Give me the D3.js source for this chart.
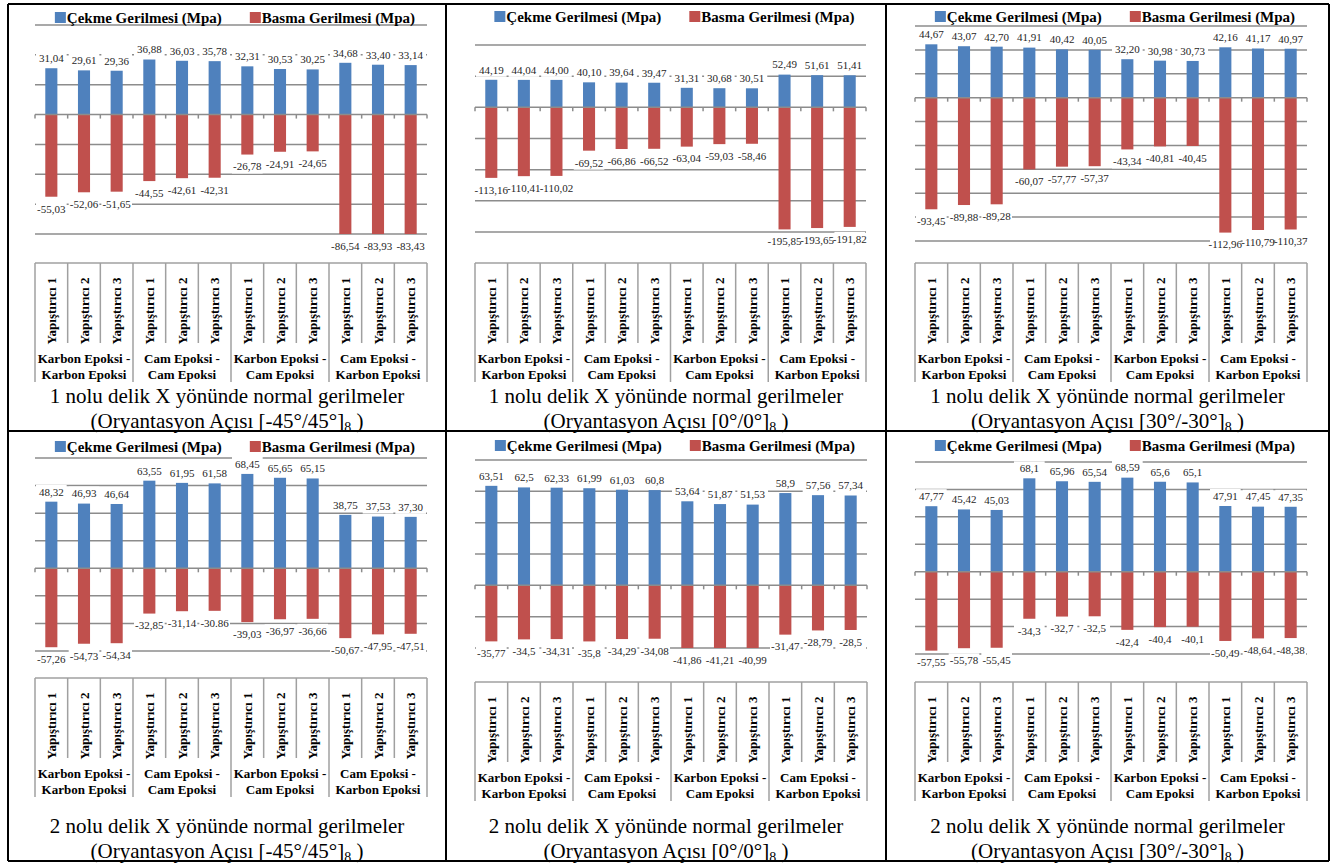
<!DOCTYPE html>
<html>
<head>
<meta charset="utf-8">
<script src="https://cdn.jsdelivr.net/npm/d3@7"></script>
<style>
  body { margin: 0; background: #fff; }
  svg { display: block; }
</style>
</head>
<body>
<div id="fig"></div>
<script>
// ---- data ----
var adhesives = ["Yapıştırıcı 1", "Yapıştırıcı 2", "Yapıştırıcı 3"];
var pairs = [["Karbon Epoksi -", "Karbon Epoksi"], ["Cam Epoksi -", "Cam Epoksi"],
             ["Karbon Epoksi -", "Cam Epoksi"], ["Cam Epoksi -", "Karbon Epoksi"]];
var seriesNames = ["Çekme Gerilmesi (Mpa)", "Basma Gerilmesi (Mpa)"];
var holeTitles = ["1 nolu delik X yönünde normal gerilmeler", "2 nolu delik X yönünde normal gerilmeler"];
var angles = ["-45°/45°", "0°/0°", "30°/-30°"];

// labels are kept exactly as printed (comma decimals)
var cekme_1_m45 = ["31,04", "29,61", "29,36", "36,88", "36,03", "35,78", "32,31", "30,53", "30,25", "34,68", "33,40", "33,14"];
var basma_1_m45 = ["-55,03", "-52,06", "-51,65", "-44,55", "-42,61", "-42,31", "-26,78", "-24,91", "-24,65", "-86,54", "-83,93", "-83,43"];
var cekme_1_0 = ["44,19", "44,04", "44,00", "40,10", "39,64", "39,47", "31,31", "30,68", "30,51", "52,49", "51,61", "51,41"];
var basma_1_0 = ["-113,16", "-110,41", "-110,02", "-69,52", "-66,86", "-66,52", "-63,04", "-59,03", "-58,46", "-195,85", "-193,65", "-191,82"];
var cekme_1_30 = ["44,67", "43,07", "42,70", "41,91", "40,42", "40,05", "32,20", "30,98", "30,73", "42,16", "41,17", "40,97"];
var basma_1_30 = ["-93,45", "-89,88", "-89,28", "-60,07", "-57,77", "-57,37", "-43,34", "-40,81", "-40,45", "-112,96", "-110,79", "-110,37"];
var cekme_2_m45 = ["48,32", "46,93", "46,64", "63,55", "61,95", "61,58", "68,45", "65,65", "65,15", "38,75", "37,53", "37,30"];
var basma_2_m45 = ["-57,26", "-54,73", "-54,34", "-32,85", "-31,14", "-30.86", "-39,03", "-36,97", "-36,66", "-50,67", "-47,95", "-47,51"];
var cekme_2_0 = ["63,51", "62,5", "62,33", "61,99", "61,03", "60,8", "53,64", "51,87", "51,53", "58,9", "57,56", "57,34"];
var basma_2_0 = ["-35,77", "-34,5", "-34,31", "-35,8", "-34,29", "-34,08", "-41,86", "-41,21", "-40,99", "-31,47", "-28,79", "-28,5"];
var cekme_2_30 = ["47,77", "45,42", "45,03", "68,1", "65,96", "65,54", "68,59", "65,6", "65,1", "47,91", "47,45", "47,35"];
var basma_2_30 = ["-57,55", "-55,78", "-55,45", "-34,3", "-32,7", "-32,5", "-42,4", "-40,4", "-40,1", "-50,49", "-48,64", "-48,38"];

var axisDomains = [[-80, 60], [-200, 100], [-120, 60], [-60, 80], [-40, 80], [-60, 80]];
var axisSteps = [20, 50, 20, 20, 20, 20];

var colors = ["#4f81bd", "#c0504d"];
var font = "Liberation Serif";

var W = 1331, H = 866;
var svg = d3.select("#fig").append("svg").attr("width", W).attr("height", H);

// table cells (outer frame of the figure)
var colX = [8, 446, 886, 1329];
var rowY = [4, 431, 861];

// per panel layout: plot area + category table top + legend baseline
var panels = [
    {cekme: cekme_1_m45, basma: basma_1_m45, x0: 35, x1: 427, yTop: 25, yBot: 234, legY: 23, tabTop: 263, row: 0, col: 0},
    {cekme: cekme_1_0, basma: basma_1_0, x0: 475, x1: 866, yTop: 45, yBot: 232, legY: 22, tabTop: 263, row: 0, col: 1},
    {cekme: cekme_1_30, basma: basma_1_30, x0: 915, x1: 1307, yTop: 26, yBot: 241, legY: 22, tabTop: 263, row: 0, col: 2},
    {cekme: cekme_2_m45, basma: basma_2_m45, x0: 35, x1: 427, yTop: 458, yBot: 651, legY: 452, tabTop: 678, row: 1, col: 0},
    {cekme: cekme_2_0, basma: basma_2_0, x0: 475, x1: 867, yTop: 460, yBot: 648, legY: 451, tabTop: 682, row: 1, col: 1},
    {cekme: cekme_2_30, basma: basma_2_30, x0: 915, x1: 1307, yTop: 462, yBot: 654, legY: 451, tabTop: 682, row: 1, col: 2}
];

function num(s) { return +s.replace(",", "."); }

function drawPanel(p, k) {
    let g = svg.append("g");
    let dom = axisDomains[k];
    let x = d3.scaleBand().domain(d3.range(12)).range([p.x0, p.x1]);
    let y = d3.scaleLinear().domain(dom).range([p.yBot, p.yTop]);
    let ticks = d3.range(dom[0], dom[1] + 0.001, axisSteps[k]);
    let bw = x.bandwidth() * 0.37;

    // gridlines
    g.selectAll(".grid").data(ticks.filter(t => t !== 0)).enter().append("line")
        .attr("x1", p.x0).attr("x2", p.x1)
        .attr("y1", d => y(d)).attr("y2", d => y(d))
        .attr("stroke", "#8c8c8c").attr("stroke-width", 1.5);

    // bars (values beyond the axis minimum are cut at the axis, like the source)
    let rows = d3.range(12).map(i => ({i: i, c: num(p.cekme[i]), b: num(p.basma[i]), cl: p.cekme[i], bl: p.basma[i]}));
    g.selectAll(".bc").data(rows).enter().append("rect")
        .attr("x", d => x(d.i) + (x.bandwidth() - bw) / 2)
        .attr("width", bw)
        .attr("y", d => y(Math.min(d.c, dom[1])))
        .attr("height", d => y(0) - y(Math.min(d.c, dom[1])))
        .attr("fill", colors[0]);
    g.selectAll(".bb").data(rows).enter().append("rect")
        .attr("x", d => x(d.i) + (x.bandwidth() - bw) / 2)
        .attr("width", bw)
        .attr("y", y(0))
        .attr("height", d => y(Math.max(d.b, dom[0])) - y(0))
        .attr("fill", colors[1]);

    // zero axis with small ticks on the category boundaries
    g.append("line").attr("x1", p.x0).attr("x2", p.x1).attr("y1", y(0)).attr("y2", y(0))
        .attr("stroke", "#8c8c8c").attr("stroke-width", 1.5);
    g.selectAll(".tk").data(d3.range(13)).enter().append("line")
        .attr("x1", d => p.x0 + d * x.step()).attr("x2", d => p.x0 + d * x.step())
        .attr("y1", y(0)).attr("y2", y(0) + 4)
        .attr("stroke", "#8c8c8c").attr("stroke-width", 1.5);

    // data labels with white boxes
    let labs = [];
    rows.forEach(d => {
        labs.push({i: d.i, t: d.cl, yy: y(Math.min(d.c, dom[1])) - 10});
        labs.push({i: d.i, t: d.bl, yy: y(Math.max(d.b, dom[0])) + 12});
    });
    g.selectAll(".lb").data(labs).enter().append("rect")
        .attr("x", d => x(d.i) + 1).attr("width", x.bandwidth() - 2)
        .attr("y", d => d.yy - 7).attr("height", 14)
        .attr("fill", "#fff");
    g.selectAll(".lt").data(labs).enter().append("text")
        .attr("x", d => x(d.i) + x.bandwidth() / 2)
        .attr("y", d => d.yy)
        .attr("dy", "0.35em")
        .attr("text-anchor", "middle")
        .attr("font-family", font).attr("font-size", 11).attr("fill", "#262626")
        .text(d => d.t);

    // legend
    let leg = g.append("g").attr("font-family", font).attr("font-size", 15).attr("font-weight", "bold");
    let t1 = leg.append("text").attr("y", p.legY).text(seriesNames[0]);
    let t2 = leg.append("text").attr("y", p.legY).text(seriesNames[1]);
    let w1 = t1.node().getComputedTextLength(), w2 = t2.node().getComputedTextLength();
    let total = 12 + w1 + 28 + 12 + w2;
    let lx = (p.x0 + p.x1) / 2 - total / 2 + 4;
    leg.insert("rect", "text").attr("x", lx).attr("y", p.legY - 11).attr("width", 11).attr("height", 11).attr("fill", colors[0]);
    t1.attr("x", lx + 12);
    let lx2 = lx + 12 + w1 + 28;
    leg.insert("rect", "text").attr("x", lx2).attr("y", p.legY - 11).attr("width", 11).attr("height", 11).attr("fill", colors[1]);
    t2.attr("x", lx2 + 12);

    // category table below the chart
    let top = p.tabTop;
    g.append("line").attr("x1", p.x0).attr("x2", p.x1).attr("y1", top).attr("y2", top)
        .attr("stroke", "#a0a0a0").attr("stroke-width", 1.5);
    g.selectAll(".vl").data(d3.range(13)).enter().append("line")
        .attr("x1", d => p.x0 + d * x.step()).attr("x2", d => p.x0 + d * x.step())
        .attr("y1", top).attr("y2", d => d % 3 === 0 ? top + 119 : top + 80)
        .attr("stroke", "#a0a0a0").attr("stroke-width", 1.5);
    g.selectAll(".ad").data(d3.range(12)).enter().append("text")
        .attr("transform", d => "translate(" + (x(d) + x.bandwidth() / 2) + "," + (top + 48) + ") rotate(-90)")
        .attr("text-anchor", "middle").attr("dy", "0.35em")
        .attr("font-family", font).attr("font-size", 13).attr("font-weight", "bold")
        .text(d => adhesives[d % 3]);
    pairs.forEach((pr, j) => {
        let cx = p.x0 + (j * 3 + 1.5) * x.step();
        pr.forEach((ln, m) => {
            g.append("text").attr("x", cx).attr("y", top + 95 + m * 16).attr("dy", "0.35em")
                .attr("text-anchor", "middle")
                .attr("font-family", font).attr("font-size", 13).attr("font-weight", "bold")
                .text(ln);
        });
    });

    // caption of the cell
    let cx = (colX[p.col] + colX[p.col + 1]) / 2;
    let bottom = rowY[p.row + 1];
    g.append("text").attr("x", cx).attr("y", bottom - 35).attr("dy", "0.35em")
        .attr("text-anchor", "middle").attr("font-family", font).attr("font-size", 21)
        .text(holeTitles[p.row]);
    let cap = g.append("text").attr("x", cx).attr("y", bottom - 10).attr("dy", "0.35em")
        .attr("text-anchor", "middle").attr("font-family", font).attr("font-size", 21);
    cap.append("tspan").text("(Oryantasyon Açısı [" + angles[p.col] + "]");
    cap.append("tspan").attr("font-size", 14).attr("dy", 4).text("8");
    cap.append("tspan").attr("dy", -4).text(" )");
}

panels.forEach(drawPanel);

// outer table frame
colX.forEach(cx => {
    svg.append("line").attr("x1", cx).attr("x2", cx).attr("y1", rowY[0]).attr("y2", rowY[2])
        .attr("stroke", "#000").attr("stroke-width", 2);
});
rowY.forEach(ry => {
    svg.append("line").attr("x1", colX[0]).attr("x2", colX[3]).attr("y1", ry).attr("y2", ry)
        .attr("stroke", "#000").attr("stroke-width", 2);
});
</script>
</body>
</html>
